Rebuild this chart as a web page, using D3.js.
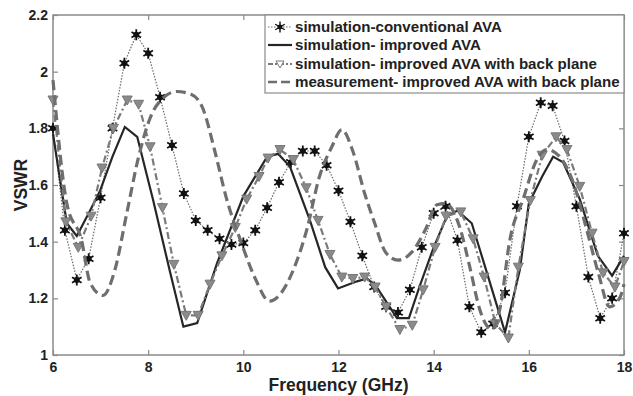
<!DOCTYPE html>
<html>
<head>
<meta charset="utf-8">
<script src="https://cdn.jsdelivr.net/npm/d3@7"></script>
<style>
  body { margin: 0; background: #fff; }
  text { font-family: Arial, "Liberation Sans", sans-serif; font-weight: bold; }
</style>
</head>
<body>
<svg id="chart" width="633" height="396"></svg>
<script>
const xTicks = [6, 8, 10, 12, 14, 16, 18];
const yTicks = [1, 1.2, 1.4, 1.6, 1.8, 2, 2.2];

const convFreq = [6, 6.25, 6.5, 6.75, 7, 7.25, 7.5, 7.75, 8, 8.25, 8.5, 8.75, 9, 9.25, 9.5, 9.75, 10, 10.25,
    10.5, 10.75, 11, 11.25, 11.5, 11.75, 12, 12.25, 12.5, 12.75, 13, 13.25, 13.5, 13.75, 14, 14.25, 14.5,
    14.75, 15, 15.25, 15.5, 15.75, 16, 16.25, 16.5, 16.75, 17, 17.25, 17.5, 17.75, 18];
const convVswr = [1.80, 1.44, 1.265, 1.34, 1.555, 1.80, 2.03, 2.13, 2.065, 1.91, 1.74, 1.57, 1.475, 1.44, 1.41,
    1.39, 1.395, 1.44, 1.52, 1.61, 1.68, 1.72, 1.72, 1.67, 1.58, 1.47, 1.35, 1.24, 1.17, 1.15, 1.23, 1.38,
    1.50, 1.525, 1.405, 1.17, 1.08, 1.11, 1.22, 1.525, 1.77, 1.89, 1.88, 1.755, 1.525, 1.275, 1.13, 1.20, 1.43];

const impFreq = [6, 6.29, 6.5, 6.78, 6.99, 7.25, 7.51, 7.77, 8.1, 8.45, 8.74, 9.03, 9.45, 10.0, 10.5, 10.73,
    10.98, 11.4, 11.72, 11.99, 12.39, 12.6, 12.8, 13.23, 13.48, 13.7, 14.0, 14.28, 14.5, 14.8, 15.12, 15.5,
    15.81, 16.0, 16.28, 16.51, 16.72, 17.07, 17.45, 17.75, 18];
const impVswr = [1.78, 1.465, 1.42, 1.51, 1.58, 1.70, 1.805, 1.77, 1.55, 1.30, 1.10, 1.113, 1.325, 1.56, 1.70,
    1.71, 1.665, 1.475, 1.31, 1.235, 1.26, 1.27, 1.24, 1.13, 1.13, 1.24, 1.38, 1.49, 1.51, 1.465, 1.29, 1.08,
    1.30, 1.535, 1.63, 1.70, 1.68, 1.55, 1.35, 1.28, 1.35];

const backFreq = [6, 6.27, 6.53, 6.8, 7.03, 7.27, 7.56, 7.8, 8.04, 8.3, 8.54, 8.8, 9.05, 9.3, 9.55, 9.83,
    10.07, 10.33, 10.52, 10.77, 11.05, 11.32, 11.57, 11.82, 12.07, 12.3, 12.55, 12.77, 13.0, 13.29, 13.55,
    13.78, 14.03, 14.26, 14.57, 14.83, 15.06, 15.3, 15.57, 15.78, 16.03, 16.28, 16.57, 16.8, 17.07, 17.33,
    17.56, 17.81, 18];
const backVswr = [1.90, 1.47, 1.38, 1.49, 1.66, 1.80, 1.90, 1.885, 1.735, 1.52, 1.32, 1.14, 1.14, 1.25, 1.35,
    1.45, 1.55, 1.63, 1.695, 1.725, 1.69, 1.59, 1.475, 1.355, 1.275, 1.27, 1.275, 1.24, 1.17, 1.09, 1.105,
    1.23, 1.38, 1.49, 1.505, 1.41, 1.275, 1.11, 1.06, 1.31, 1.545, 1.705, 1.77, 1.725, 1.595, 1.43, 1.29,
    1.24, 1.33];

const measFreq = [6, 6.29, 6.6, 6.78, 7.05, 7.3, 7.55, 7.8, 8.05, 8.3, 8.6, 8.9, 9.15, 9.4, 9.65, 9.95, 10.25,
    10.55, 10.8, 11.05, 11.33, 11.6, 11.86, 12.07, 12.3, 12.55, 12.75, 13.0, 13.25, 13.55, 13.82, 14.07,
    14.25, 14.55, 14.76, 14.97, 15.22, 15.4, 15.6, 15.88, 16.17, 16.38, 16.65, 16.93, 17.22, 17.46, 17.7,
    17.92, 18];
const measVswr = [1.97, 1.535, 1.405, 1.255, 1.21, 1.30, 1.50, 1.70, 1.84, 1.905, 1.93, 1.92, 1.87, 1.72,
    1.55, 1.40, 1.27, 1.19, 1.22, 1.30, 1.44, 1.63, 1.735, 1.795, 1.72, 1.57, 1.47, 1.36, 1.335, 1.365, 1.44,
    1.53, 1.535, 1.45, 1.31, 1.16, 1.09, 1.17, 1.405, 1.55, 1.69, 1.725, 1.70, 1.61, 1.44, 1.29, 1.17, 1.205,
    1.25];

const legendLabels = [
    "simulation-conventional AVA",
    "simulation- improved AVA",
    "simulation- improved AVA with back plane",
    "measurement- improved AVA with back plane"
];

const toPoints = (xs, ys) => xs.map((f, i) => ({ f, v: ys[i] }));

const series = [
    { key: "conv", points: toPoints(convFreq, convVswr), stroke: "#6a6a6a", width: 1.2, dash: "1.5,1.5", legendDash: "1.5,1.5", marker: "star", curve: d3.curveLinear },
    { key: "imp", points: toPoints(impFreq, impVswr), stroke: "#262626", width: 2.2, dash: null, legendDash: null, marker: null, curve: d3.curveLinear },
    { key: "back", points: toPoints(backFreq, backVswr), stroke: "#7a7a7a", width: 2.2, dash: "7,3,2,3", legendDash: "5,2,2,2", marker: "tri", curve: d3.curveLinear },
    { key: "meas", points: toPoints(measFreq, measVswr), stroke: "#6e6e6e", width: 3.2, dash: "10,5", legendDash: "9,4", marker: null, curve: d3.curveMonotoneX }
];

const margin = { left: 53, top: 15, right: 9, bottom: 41 };
const width = 633;
const height = 396;
const svg = d3.select("#chart");

const x = d3.scaleLinear().domain([6, 18]).range([margin.left, width - margin.right]);
const y = d3.scaleLinear().domain([1, 2.2]).range([height - margin.bottom, margin.top]);

const axisColor = "#8a8a8a";

// frame
svg.append("rect")
    .attr("x", x(6)).attr("y", y(2.2))
    .attr("width", x(18) - x(6)).attr("height", y(1) - y(2.2))
    .attr("fill", "none").attr("stroke", axisColor).attr("stroke-width", 1.5);

const styleAxis = (g) => {
    g.select(".domain").remove();
    g.selectAll(".tick line").attr("stroke", axisColor).attr("stroke-width", 1.2);
    g.selectAll(".tick text").attr("fill", "#222").attr("font-size", 14).attr("font-weight", "bold");
};

svg.append("g")
    .attr("transform", `translate(0,${y(1)})`)
    .call(d3.axisBottom(x).tickValues(xTicks).tickSize(-5).tickPadding(7).tickFormat(d3.format("d")))
    .call(styleAxis);

svg.append("g")
    .attr("transform", `translate(0,${y(2.2)})`)
    .call(d3.axisTop(x).tickValues(xTicks).tickSize(-5).tickFormat(""))
    .call(styleAxis);

svg.append("g")
    .attr("transform", `translate(${x(6)},0)`)
    .call(d3.axisLeft(y).tickValues(yTicks).tickSize(-5).tickPadding(5).tickFormat((d) => d3.format("~g")(d)))
    .call(styleAxis);

svg.append("g")
    .attr("transform", `translate(${x(18)},0)`)
    .call(d3.axisRight(y).tickValues(yTicks).tickSize(-5).tickFormat(""))
    .call(styleAxis);

const starPath = d3.symbol().type(d3.symbolAsterisk).size(85)();
const triPath = "M-5,-4L5,-4L0,5Z";

const plot = svg.append("g");

series.forEach((s) => {
    const line = d3.line().curve(s.curve).x((d) => x(d.f)).y((d) => y(d.v));
    plot.append("path")
        .datum(s.points)
        .attr("fill", "none")
        .attr("stroke", s.stroke)
        .attr("stroke-width", s.width)
        .attr("stroke-dasharray", s.dash)
        .attr("d", line);

    if (s.marker === "star") {
        const g = plot.selectAll(null).data(s.points).join("g")
            .attr("transform", (d) => `translate(${x(d.f)},${y(d.v)})`);
        g.append("circle").attr("r", 3).attr("fill", "#111");
        g.append("path").attr("d", starPath).attr("stroke", "#111").attr("stroke-width", 1.8).attr("fill", "none");
    } else if (s.marker === "tri") {
        plot.selectAll(null).data(s.points).join("path")
            .attr("transform", (d) => `translate(${x(d.f)},${y(d.v)})`)
            .attr("d", triPath)
            .attr("fill", "#8a8a8a")
            .attr("stroke", "#777")
            .attr("stroke-width", 1);
    }
});

// legend
const legend = svg.append("g");
legend.append("rect")
    .attr("x", 265).attr("y", y(2.2))
    .attr("width", x(18) - 265).attr("height", 78)
    .attr("fill", "#fff").attr("stroke", axisColor).attr("stroke-width", 1.2);

const rowY = [27, 45, 64, 82];
series.forEach((s, i) => {
    const ly = rowY[i];
    legend.append("line")
        .attr("x1", 268).attr("x2", 292).attr("y1", ly).attr("y2", ly)
        .attr("stroke", s.stroke).attr("stroke-width", Math.min(s.width, 2.4))
        .attr("stroke-dasharray", s.legendDash);
    if (s.marker === "star") {
        const g = legend.append("g").attr("transform", `translate(280,${ly})`);
        g.append("circle").attr("r", 2.4).attr("fill", "#111");
        g.append("path").attr("d", starPath).attr("stroke", "#111").attr("stroke-width", 1.4).attr("fill", "none");
    } else if (s.marker === "tri") {
        legend.append("path")
            .attr("transform", `translate(280,${ly})`)
            .attr("d", "M-4,-3L4,-3L0,4Z")
            .attr("fill", "#fff").attr("stroke", "#777").attr("stroke-width", 1);
    }
    legend.append("text")
        .attr("x", 295).attr("y", ly + 5)
        .attr("font-size", 15.1).attr("fill", "#222")
        .text(legendLabels[i]);
});

svg.append("text")
    .attr("x", (x(6) + x(18)) / 2).attr("y", 391)
    .attr("text-anchor", "middle").attr("font-size", 17.5).attr("fill", "#222")
    .text("Frequency (GHz)");

svg.append("text")
    .attr("transform", `translate(27,${(y(1) + y(2.2)) / 2}) rotate(-90)`)
    .attr("text-anchor", "middle").attr("font-size", 17.5).attr("fill", "#222")
    .text("VSWR");
</script>
</body>
</html>
